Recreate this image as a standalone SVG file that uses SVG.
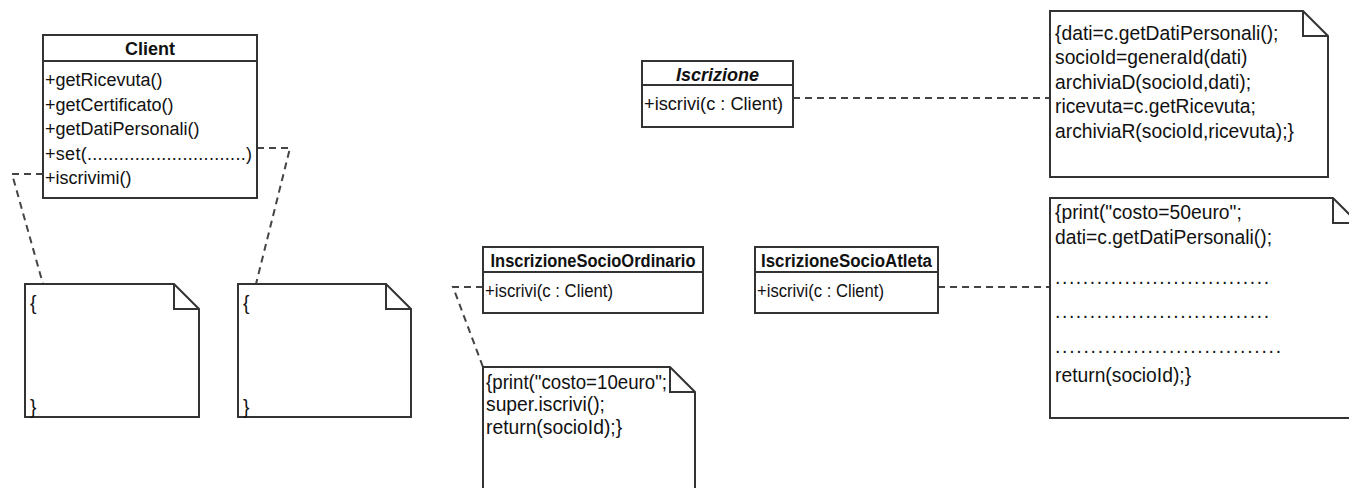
<svg xmlns="http://www.w3.org/2000/svg" width="1349" height="488" viewBox="0 0 1349 488">
<style>
.box{fill:#fff;stroke:#333;stroke-width:2}
.sep{stroke:#333;stroke-width:2}
.note{fill:#fff;stroke:#333;stroke-width:2;stroke-linejoin:miter}
.fold{fill:none;stroke:#333;stroke-width:2}
.dash{fill:none;stroke:#444;stroke-width:2;stroke-dasharray:7 5}
.t{font-family:"Liberation Sans",Arial,sans-serif;font-size:18px;fill:#111}
.h{font-family:"Liberation Sans",Arial,sans-serif;font-size:18px;font-weight:bold;fill:#111;text-anchor:middle}
.n{font-family:"Liberation Sans",Arial,sans-serif;font-size:19.3px;fill:#111}
</style>
<rect width="1349" height="488" fill="#fff"/>
<g id="connectors">
<polyline class="dash" points="43,174 12,174 43,284"/>
<polyline class="dash" points="257,148 290,148 256,284"/>
<line class="dash" x1="793" y1="98" x2="1050" y2="98"/>
<polyline class="dash" points="483,287 453,287 483,367"/>
<line class="dash" x1="938" y1="287" x2="1050" y2="287"/>
</g>
<g id="client">
<rect class="box" x="43" y="35" width="214" height="163"/>
<line class="sep" x1="43" y1="61" x2="257" y2="61"/>
<text class="h" x="150" y="55">Client</text>
<text class="t" x="45" y="86">+getRicevuta()</text>
<text class="t" x="45" y="110.5">+getCertificato()</text>
<text class="t" x="45" y="135">+getDatiPersonali()</text>
<text class="t" x="45" y="159.5" textLength="207" lengthAdjust="spacing">+set(..............................)</text>
<text class="t" x="45" y="184">+iscrivimi()</text>
</g>
<g id="note-client-1">
<path class="note" d="M25,284 H174 L199,309 V417 H25 Z"/>
<path class="fold" d="M174,284 V309 H199"/>
<text class="n" x="30" y="310">{</text>
<text class="n" x="30" y="414">}</text>
</g>
<g id="note-client-2">
<path class="note" d="M238,284 H386 L411,309 V417 H238 Z"/>
<path class="fold" d="M386,284 V309 H411"/>
<text class="n" x="243" y="310">{</text>
<text class="n" x="243" y="414">}</text>
</g>
<g id="iscrizione">
<rect class="box" x="642" y="61" width="151" height="66"/>
<line class="sep" x1="642" y1="85" x2="793" y2="85"/>
<text class="h" x="717.5" y="81" font-style="italic">Iscrizione</text>
<text class="t" x="644" y="109.5" textLength="139" lengthAdjust="spacingAndGlyphs">+iscrivi(c : Client)</text>
</g>
<g id="note-iscrizione">
<path class="note" d="M1050,11 H1303 L1328,36 V177 H1050 Z"/>
<path class="fold" d="M1303,11 V36 H1328"/>
<text class="n" x="1055" y="39.5">{dati=c.getDatiPersonali();</text>
<text class="n" x="1055" y="64">socioId=generaId(dati)</text>
<text class="n" x="1055" y="88.5">archiviaD(socioId,dati);</text>
<text class="n" x="1055" y="113">ricevuta=c.getRicevuta;</text>
<text class="n" x="1055" y="137.5">archiviaR(socioId,ricevuta);}</text>
</g>
<g id="ordinario">
<rect class="box" x="483" y="247" width="220" height="66"/>
<line class="sep" x1="483" y1="272" x2="703" y2="272"/>
<text class="h" x="593" y="267" textLength="205" lengthAdjust="spacingAndGlyphs">InscrizioneSocioOrdinario</text>
<text class="t" x="485" y="297" textLength="128" lengthAdjust="spacingAndGlyphs">+iscrivi(c : Client)</text>
</g>
<g id="note-ordinario">
<path class="note" d="M483,367 H670 L695,392 V500 H483 Z"/>
<path class="fold" d="M670,367 V392 H695"/>
<text class="n" x="486" y="388.5" textLength="181" lengthAdjust="spacingAndGlyphs">{print("costo=10euro";</text>
<text class="n" x="486" y="411">super.iscrivi();</text>
<text class="n" x="486" y="433.5">return(socioId);}</text>
</g>
<g id="atleta">
<rect class="box" x="755" y="247" width="183" height="66"/>
<line class="sep" x1="755" y1="272" x2="938" y2="272"/>
<text class="h" x="846.5" y="267" textLength="171" lengthAdjust="spacingAndGlyphs">IscrizioneSocioAtleta</text>
<text class="t" x="757" y="297" textLength="127" lengthAdjust="spacingAndGlyphs">+iscrivi(c : Client)</text>
</g>
<g id="note-atleta">
<path class="note" d="M1050,198 H1333 L1358,223 V418 H1050 Z"/>
<path class="fold" d="M1333,198 V223 H1358"/>
<text class="n" x="1055" y="218.5">{print("costo=50euro";</text>
<text class="n" x="1055" y="243.5">dati=c.getDatiPersonali();</text>
<text class="n" x="1055" y="284" textLength="214" lengthAdjust="spacing">...............................</text>
<text class="n" x="1055" y="317.5" textLength="214" lengthAdjust="spacing">...............................</text>
<text class="n" x="1055" y="353" textLength="226" lengthAdjust="spacing">................................</text>
<text class="n" x="1055" y="382">return(socioId);}</text>
</g>
</svg>
